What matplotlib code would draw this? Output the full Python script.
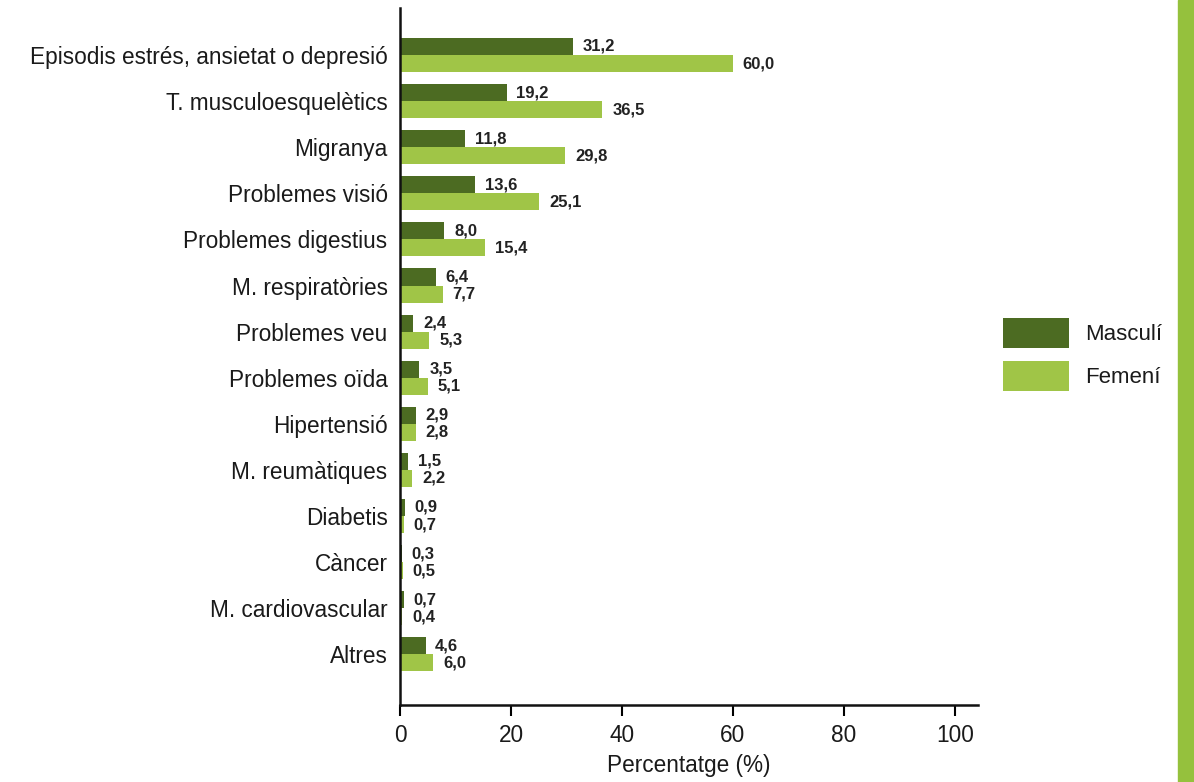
import matplotlib
matplotlib.use("Agg")
import matplotlib.pyplot as plt
import numpy as np
from matplotlib.patches import Rectangle

categories = ["Episodis estrés, ansietat o depresió", "T. musculoesquelètics", "Migranya",
              "Problemes visió", "Problemes digestius", "M. respiratòries", "Problemes veu",
              "Problemes oïda", "Hipertensió", "M. reumàtiques", "Diabetis", "Càncer",
              "M. cardiovascular", "Altres"]
masculi = [31.2, 19.2, 11.8, 13.6, 8.0, 6.4, 2.4, 3.5, 2.9, 1.5, 0.9, 0.3, 0.7, 4.6]
femeni = [60.0, 36.5, 29.8, 25.1, 15.4, 7.7, 5.3, 5.1, 2.8, 2.2, 0.7, 0.5, 0.4, 6.0]
series_names = ["Masculí", "Femení"]
xticks = [0, 20, 40, 60, 80, 100]

plt.rcParams['font.family'] = ['Liberation Sans', 'DejaVu Sans']
dark = "#4c6b22"
light = "#a0c547"
txt = "#1a1a1a"
fs = 16.3

fig = plt.figure(figsize=(11.94, 7.82), dpi=100)
W, H = 1194, 782
fig.patches.append(Rectangle((1178 / W, 0), (W - 1178) / W, 1, transform=fig.transFigure,
                             color="#95c13d", zorder=-5))
ax = fig.add_axes([400 / W, 1 - 705 / H, (978 - 400) / W, (705 - 8) / H])

n = len(categories)
y = np.arange(n)
bh = 0.37
ax.barh(y - bh / 2, masculi, height=bh, color=dark, label=series_names[0])
ax.barh(y + bh / 2, femeni, height=bh, color=light, label=series_names[1])

def fmt(v):
    return f"{v:.1f}".replace(".", ",")

for i in range(n):
    ax.annotate(fmt(masculi[i]), (masculi[i], y[i] - bh / 2), xytext=(7, 0),
                textcoords="offset points", va="center", ha="left", fontsize=12,
                fontweight="bold", color="#222222")
    ax.annotate(fmt(femeni[i]), (femeni[i], y[i] + bh / 2), xytext=(7, 0),
                textcoords="offset points", va="center", ha="left", fontsize=12,
                fontweight="bold", color="#222222")

ax.set_ylim(n - 1 + 1.1, -1.02)
ax.set_xlim(0, 104.2)
ax.set_yticks(y)
ax.set_yticklabels(categories, fontsize=fs, color=txt)
ax.tick_params(axis="y", length=0, pad=9)
ax.set_xticks(xticks)
ax.set_xticklabels([str(t) for t in xticks], fontsize=fs, color=txt)
ax.tick_params(axis="x", length=8, width=1.5, direction="out", pad=6)
ax.set_xlabel("Percentatge (%)", fontsize=fs, color=txt, labelpad=5)
for s in ["top", "right"]:
    ax.spines[s].set_visible(False)
for s in ["left", "bottom"]:
    ax.spines[s].set_linewidth(1.8)
    ax.spines[s].set_color("#111111")

leg = fig.legend(loc="upper left", bbox_to_anchor=(1003 / W, 1 - 318 / H), frameon=False,
                 fontsize=16, handlelength=2.95, handleheight=1.72, labelspacing=0.55,
                 handletextpad=0.75, borderpad=0, borderaxespad=0)
for t in leg.get_texts():
    t.set_color(txt)

fig.savefig("out.png", dpi=100)
